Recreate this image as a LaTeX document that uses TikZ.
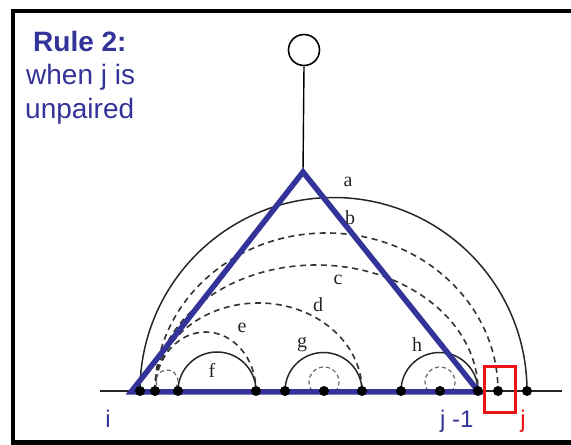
\documentclass[tikz,border=0pt]{standalone}
\usepackage{fontspec}
\setmainfont{Liberation Serif}
\newfontfamily\arialf{Liberation Sans}
\definecolor{rblue}{RGB}{51,51,153}
\definecolor{rred}{RGB}{235,20,20}
\begin{document}
\begin{tikzpicture}[x=1pt,y=1pt,
  dot/.style={circle,fill=black,inner sep=0pt,minimum size=10pt},
  arcline/.style={line width=1.5pt,black!85},
  dasharc/.style={line width=1.6pt,black!80,dash pattern=on 6pt off 4.5pt},
  tri/.style={line width=5.5pt,rblue,line join=miter},
  lbl/.style={font=\fontsize{20}{20}\selectfont,inner sep=0pt,text=black!85},
  title/.style={font=\arialf\fontsize{28}{28}\selectfont,text=rblue,anchor=base west,inner sep=0pt},
  idx/.style={font=\arialf\fontsize{24}{24}\selectfont,anchor=base,inner sep=0pt},
  frame/.style={line width=4pt,black}]
\useasboundingbox (0,0) rectangle (571,445);
% frame
\draw[frame] (13,0) |- (571,434);
\draw[line width=5pt] (11,2.5) -- (571,2.5);
% title
\node[title,font=\arialf\bfseries\fontsize{28}{28}\selectfont] (t1) at (33,393) {Rule 2:};
\node[title] (t2) at (26,360) {when j is};
\node[title] (t3) at (25,326) {unpaired};
% base positions
\coordinate (p1) at (140,54);
\coordinate (p2) at (155,54);
\coordinate (p3) at (178,54);
\coordinate (p4) at (256,54);
\coordinate (p5) at (285,54);
\coordinate (p6) at (324,54);
\coordinate (p7) at (362,54);
\coordinate (p8) at (401,54);
\coordinate (p9) at (440,54);
\coordinate (p10) at (478,54);
\coordinate (p11) at (498,54);
\coordinate (p12) at (527,54);
\coordinate (bl) at (100,54);
\coordinate (br) at (562,54);
% backbone
\draw[line width=1.4pt,black!85] (bl) -- (br);
% solid arcs
\draw[arcline] (p1) arc[start angle=180,end angle=0,radius=193.5];
\draw[arcline] (p3) arc[start angle=180,end angle=0,radius=39];
\draw[arcline] (p5) arc[start angle=180,end angle=0,radius=38.5];
\draw[arcline] (p8) arc[start angle=180,end angle=0,radius=38.5];
% dashed arcs
\draw[dasharc] (p2) arc[start angle=180,end angle=0,x radius=171.5,y radius=158];
\draw[dasharc] (p2) arc[start angle=180,end angle=0,x radius=161.5,y radius=126];
\draw[dasharc] (p2) arc[start angle=180,end angle=0,x radius=103.5,y radius=88];
\draw[dasharc] (p2) arc[start angle=180,end angle=0,x radius=50.5,y radius=59];
% small dashed loops
\draw[dasharc,line width=1.2pt,black!60,dash pattern=on 4pt off 3pt] (324,63) ++(-40:15) arc[start angle=-40,end angle=220,radius=15];
\draw[dasharc,line width=1.2pt,black!60,dash pattern=on 4pt off 3pt] (440,63) ++(-40:15) arc[start angle=-40,end angle=220,radius=15];
\draw[dasharc,line width=1.2pt,black!60,dash pattern=on 4pt off 3pt] (167,64) ++(-40:11) arc[start angle=-40,end angle=220,radius=11];
% triangle
\coordinate (L) at (131,53);
\coordinate (A) at (303,273);
\coordinate (R) at (479,53);
\node[draw,circle,line width=1.6pt,minimum size=31pt,inner sep=0pt] (top) at (304,395) {};
\draw[line width=1.4pt] (A) -- (top.south);
\draw[tri] (L) -- (A) -- (R) -- cycle;
% dots
\foreach \k in {1,...,12} {\node[dot] (q\k) at (p\k) {};}
% arc labels
\node[lbl] (la) at (348,263) {a};
\node[lbl] (lb) at (350,227) {b};
\node[lbl] (lc) at (338,165) {c};
\node[lbl] (ld) at (318,140) {d};
\node[lbl] (le) at (242,117) {e};
\node[lbl] (lf) at (212,75) {f};
\node[lbl] (lg) at (302,100) {g};
\node[lbl] (lh) at (417,100) {h};
% red box
\node[draw=rred,line width=3pt,minimum width=31pt,minimum height=46pt,inner sep=0pt] (box) at (499.5,55) {};
% index labels
\node[idx,text=rblue] (li) at (108,17) {i};
\node[idx,text=rblue,anchor=base west] (lj1) at (440,17) {j -1};
\node[idx,text=rred] (lj) at (523,17) {j};
\end{tikzpicture}
\end{document}
